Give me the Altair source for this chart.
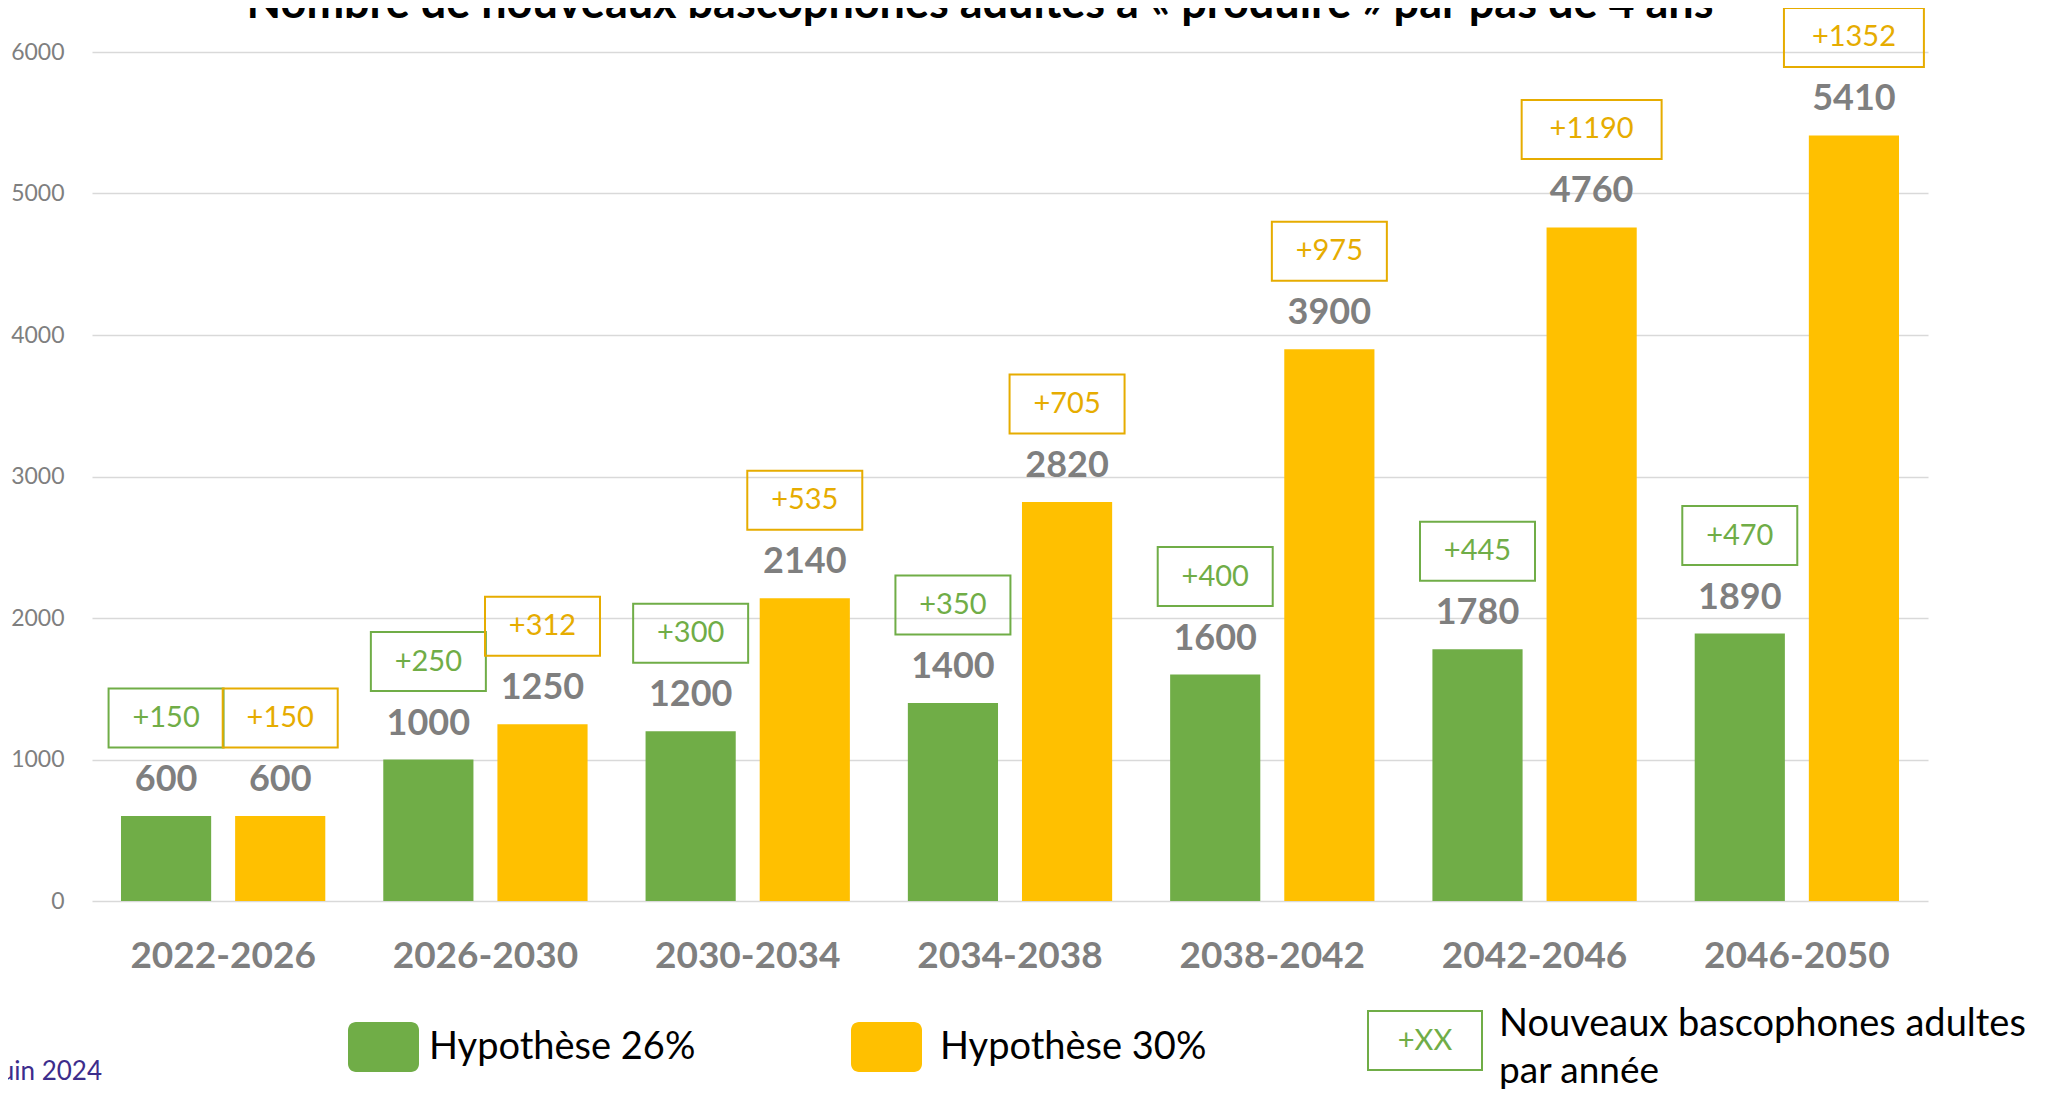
import altair as alt
import pandas as pd

# ---------------- data ----------------
periods = ["2022-2026", "2026-2030", "2030-2034", "2034-2038",
           "2038-2042", "2042-2046", "2046-2050"]
h26 = [600, 1000, 1200, 1400, 1600, 1780, 1890]
h30 = [600, 1250, 2140, 2820, 3900, 4760, 5410]
inc26 = ["+150", "+250", "+300", "+350", "+400", "+445", "+470"]
inc30 = ["+150", "+312", "+535", "+705", "+975", "+1190", "+1352"]
series_names = ["Hypothèse 26%", "Hypothèse 30%"]
y_ticks = [0, 1000, 2000, 3000, 4000, 5000, 6000]
title_text = ["Nombre de nouveaux bascophones adultes à « produire » par pas de 4 ans"]
date_text = ["Juin 2024"]
legend_box_label = ["+XX"]
legend_box_text = ["Nouveaux bascophones adultes", "par année"]

GREEN = "#70ad47"
YELLOW = "#ffc000"
GOLD = "#e6ac00"
GRAY = "#7f7f7f"
FONT = "Lato"

rows = []
for i, p in enumerate(periods):
    rows.append({"period": p, "serie": series_names[0], "value": h26[i], "inc": inc26[i]})
    rows.append({"period": p, "serie": series_names[1], "value": h30[i], "inc": inc30[i]})
df = pd.DataFrame(rows)

W, H = 1836, 849

x = alt.X("period:N", sort=periods,
          scale=alt.Scale(paddingInner=0, paddingOuter=0),
          axis=alt.Axis(title=None, labelAngle=0, labelFont=FONT, labelFontSize=37,
                        labelFontWeight="bold", labelColor=GRAY, labelPadding=55,
                        labelBaseline="middle", labelLimit=0, ticks=False, tickSize=0,
                        domain=False))
xo = alt.XOffset("serie:N", sort=series_names,
                 scale=alt.Scale(paddingInner=0.21, paddingOuter=0.254))
y = alt.Y("value:Q", scale=alt.Scale(domain=[0, 6000], nice=False),
          axis=alt.Axis(title=None, values=y_ticks, format="d", labelFont=FONT,
                        labelFontSize=23, labelColor=GRAY, labelPadding=28, grid=True,
                        gridColor="#d9d9d9", gridWidth=1.5, domain=False, ticks=False,
                        tickSize=0))

base = alt.Chart(df)

bars = base.mark_bar().encode(
    x=x, xOffset=xo, y=y,
    color=alt.Color("serie:N", scale=alt.Scale(domain=series_names, range=[GREEN, YELLOW]),
                    legend=None))

values = base.mark_text(font=FONT, fontSize=36, fontWeight="bold", color=GRAY,
                        baseline="middle", dy=-36).encode(
    x=x, xOffset=xo, y=y, text=alt.Text("value:Q", format="d"))

# box outlines (custom symbol paths, scale = sqrt(size)/2 = 57.5 px)
P_N = "M-1,-2.217H1V-1.191H-1Z"
P_W = "M-1.217,-2.217H1.217V-1.191H-1.217Z"
boxes = base.transform_calculate(
    kind="length(datum.inc) > 4 ? 'wide' : 'narrow'"
).mark_point(filled=False, strokeWidth=2, size=13225, opacity=1).encode(
    x=x, xOffset=xo, y=y,
    shape=alt.Shape("kind:N", scale=alt.Scale(domain=["narrow", "wide"], range=[P_N, P_W]),
                    legend=None),
    stroke=alt.Stroke("serie:N", scale=alt.Scale(domain=series_names, range=[GREEN, GOLD]),
                      legend=None))

box_text = base.mark_text(font=FONT, fontSize=29, baseline="middle", dy=-98).encode(
    x=x, xOffset=xo, y=y, text="inc:N",
    fill=alt.Fill("serie:N", scale=alt.Scale(domain=series_names, range=[GREEN, GOLD]),
                  legend=None))

# ---------------- title, date, legend ----------------
title = alt.Chart(pd.DataFrame({"t": title_text})).mark_text(
    font=FONT, fontSize=45, fontWeight="bold", color="#000000", baseline="alphabetic",
    align="center").encode(x=alt.value(888), y=alt.value(-34), text="t:N")

date = alt.Chart(pd.DataFrame({"t": date_text})).mark_text(
    font=FONT, fontSize=26, color="#3c2d8c", baseline="middle", align="right").encode(
    x=alt.value(10), y=alt.value(1020), text="t:N")

LEG_FS = 38
leg_sq1 = alt.Chart(pd.DataFrame({"s": series_names[:1]})).mark_rect(
    cornerRadius=8, color=GREEN).encode(
    x=alt.value(256), x2=alt.value(327), y=alt.value(970), y2=alt.value(1020))
leg_t1 = alt.Chart(pd.DataFrame({"s": series_names[:1]})).mark_text(
    font=FONT, fontSize=LEG_FS, color="#000000", baseline="middle", align="left").encode(
    x=alt.value(337), y=alt.value(996), text="s:N")
leg_sq2 = alt.Chart(pd.DataFrame({"s": series_names[1:]})).mark_rect(
    cornerRadius=8, color=YELLOW).encode(
    x=alt.value(759), x2=alt.value(830), y=alt.value(970), y2=alt.value(1020))
leg_t2 = alt.Chart(pd.DataFrame({"s": series_names[1:]})).mark_text(
    font=FONT, fontSize=LEG_FS, color="#000000", baseline="middle", align="left").encode(
    x=alt.value(848), y=alt.value(996), text="s:N")
leg_box = alt.Chart(pd.DataFrame({"s": legend_box_label})).mark_rect(
    fill="transparent", stroke=GREEN, strokeWidth=2).encode(
    x=alt.value(1276), x2=alt.value(1390), y=alt.value(959), y2=alt.value(1018))
leg_box_t = alt.Chart(pd.DataFrame({"s": legend_box_label})).mark_text(
    font=FONT, fontSize=29, color=GREEN, baseline="middle", align="center").encode(
    x=alt.value(1333), y=alt.value(989), text="s:N")
leg_t3 = alt.Chart(pd.DataFrame({"s": legend_box_text[:1]})).mark_text(
    font=FONT, fontSize=38, color="#000000", baseline="middle", align="left").encode(
    x=alt.value(1407), y=alt.value(973), text="s:N")
leg_t4 = alt.Chart(pd.DataFrame({"s": legend_box_text[1:]})).mark_text(
    font=FONT, fontSize=37, color="#000000", baseline="middle", align="left").encode(
    x=alt.value(1407), y=alt.value(1020), text="s:N")

chart = alt.layer(
    bars, values, boxes, box_text, title, date,
    leg_sq1, leg_t1, leg_sq2, leg_t2, leg_box, leg_box_t, leg_t3, leg_t4
).properties(
    width=W, height=H,
    autosize=alt.AutoSizeParams(type="none"),
    padding={"left": 84, "top": 44, "right": 116, "bottom": 193},
).configure_view(stroke=None)

chart.save("out.html", embed_options={"renderer": "svg", "actions": False})
